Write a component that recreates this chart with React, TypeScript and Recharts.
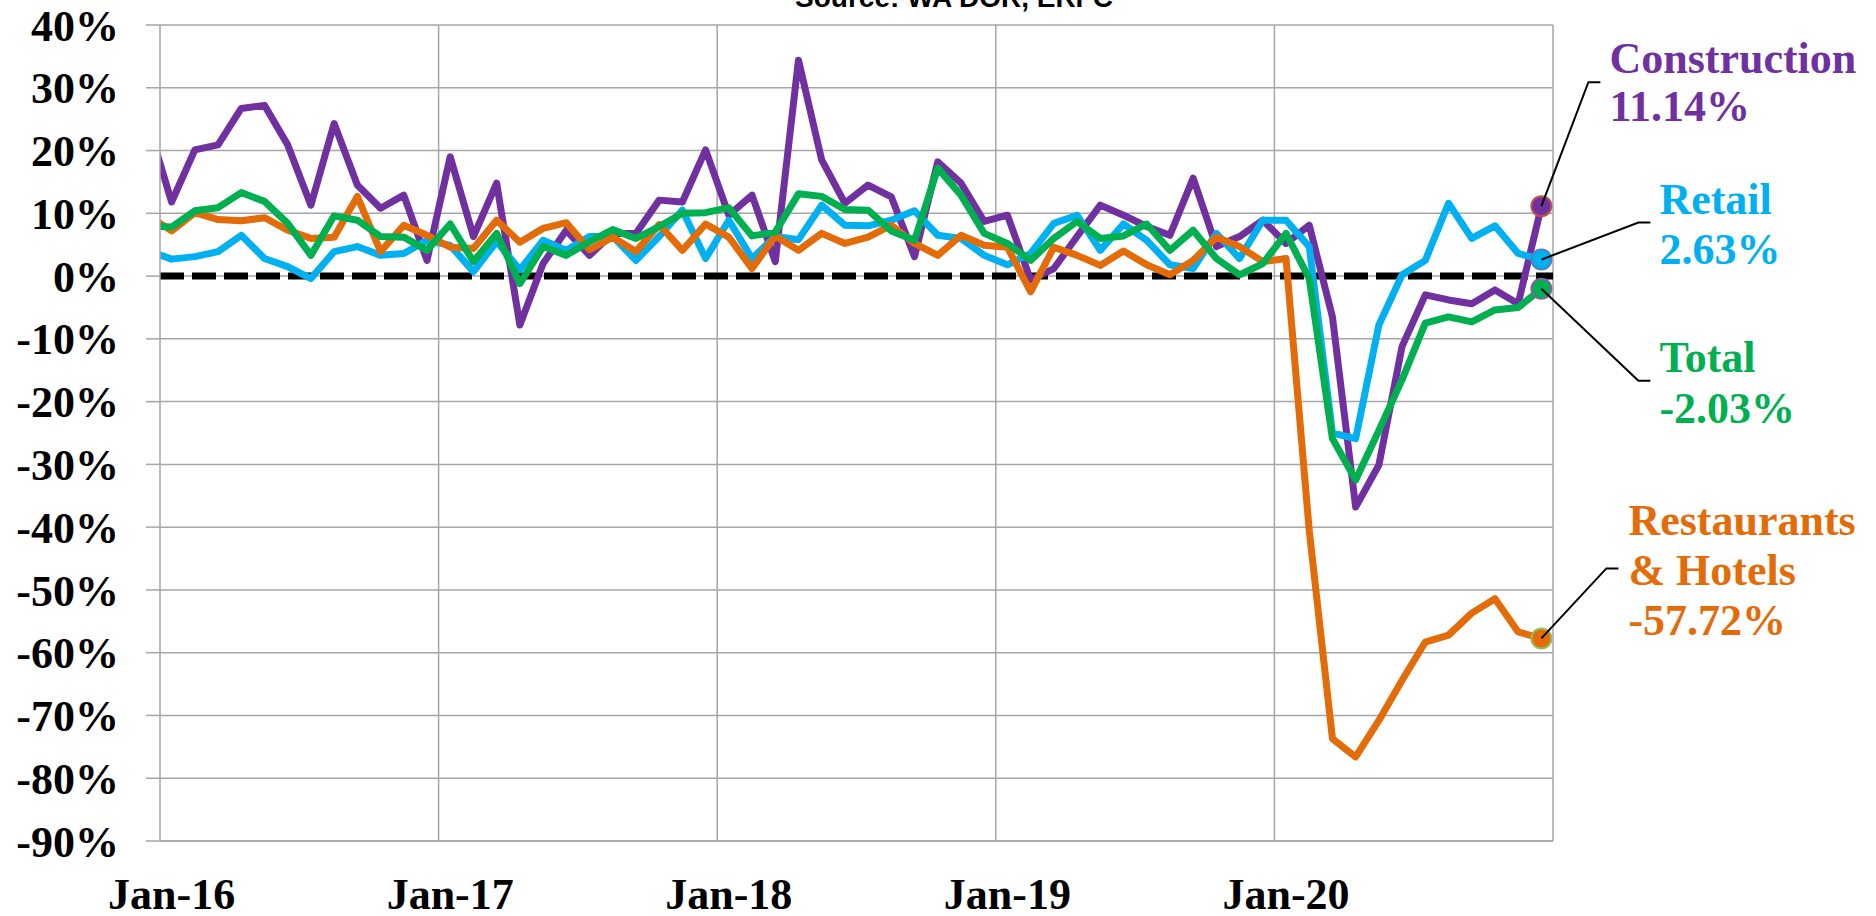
import React from 'react';
import { LineChart, Line, XAxis, YAxis, CartesianGrid, ReferenceLine, ReferenceDot } from 'recharts';

// Dec-15 .. Dec-20, year-over-year change in %
const construction = [
  24.1,
  11.8, 20.1, 20.9, 26.7, 27.2, 20.9, 11.3, 24.3, 14.5, 10.8, 12.9, 2.5,
  19.0, 6.3, 14.8, -7.8, 2.0, 7.3, 3.3, 6.8, 6.8, 12.1, 11.8, 20.1,
  9.7, 12.9, 2.3, 34.4, 18.5, 11.6, 14.5, 12.6, 3.1, 18.2, 14.8, 8.7,
  9.7, -0.6, 1.2, 6.3, 11.3, 9.7, 7.9, 6.5, 15.6, 4.7, 6.3, 8.9,
  5.2, 8.1, -6.5, -36.8, -30.1, -11.2, -3.0, -3.8, -4.4, -2.2, -4.4, 11.14,
];
const retail = [
  4.0,
  2.7, 3.1, 3.9, 6.5, 2.8, 1.5, -0.4, 3.9, 4.7, 3.3, 3.6, 5.7,
  4.9, 0.7, 5.5, 1.0, 5.7, 4.1, 6.3, 6.3, 2.5, 6.3, 10.5, 2.8,
  8.9, 2.8, 6.3, 5.8, 11.3, 8.1, 8.0, 8.9, 10.4, 6.5, 6.0, 3.3,
  1.8, 3.6, 8.4, 9.7, 4.1, 8.3, 5.7, 1.8, 1.2, 6.8, 2.8, 8.9,
  8.9, 4.7, -25.0, -25.9, -7.8, 0.2, 2.5, 11.6, 6.0, 8.0, 3.6, 2.63,
];
const restaurants = [
  9.6,
  7.2, 10.1, 9.0, 8.8, 9.3, 7.3, 6.0, 6.2, 12.7, 3.9, 8.1, 6.5,
  4.6, 4.4, 8.9, 5.4, 7.6, 8.5, 4.2, 6.2, 3.9, 8.2, 4.1, 8.3,
  6.2, 1.2, 6.4, 4.1, 6.8, 5.2, 6.2, 8.1, 5.2, 3.3, 6.5, 4.9,
  4.6, -2.5, 4.6, 3.3, 1.7, 4.0, 1.8, 0.2, 2.5, 6.2, 4.7, 2.3,
  2.8, -40.5, -73.7, -76.6, -70.8, -64.4, -58.3, -57.2, -53.7, -51.4, -56.7, -57.72,
];
const total = [
  8.0,
  7.8, 10.4, 10.9, 13.3, 11.9, 8.4, 3.3, 9.6, 8.9, 6.3, 6.2, 4.1,
  8.3, 2.3, 6.8, -1.2, 4.7, 3.3, 5.5, 7.4, 6.0, 7.9, 10.0, 10.1,
  10.9, 6.4, 7.0, 13.1, 12.7, 10.6, 10.5, 7.2, 5.7, 17.2, 12.9, 6.8,
  5.2, 2.5, 6.0, 8.7, 6.0, 6.4, 8.3, 4.1, 7.3, 2.8, 0.2, 2.0,
  6.8, -0.4, -25.9, -32.5, -24.6, -16.5, -7.5, -6.5, -7.3, -5.4, -5.0, -2.03,
];

const xTicks = [0, 12, 24, 36, 48];
const xTickLabels = ['Jan-16', 'Jan-17', 'Jan-18', 'Jan-19', 'Jan-20'];
const yTicks = [40, 30, 20, 10, 0, -10, -20, -30, -40, -50, -60, -70, -80, -90];
const yearBreaks = [11.5, 23.5, 35.5, 47.5, 59.5];

const PURPLE = '#7030A0';
const BLUE = '#00B0F0';
const ORANGE = '#E36C09';
const GREEN = '#00B050';
const GRID = '#a6a6a6';
const FONT = '"Liberation Serif", "Times New Roman", serif';

// month index: -1 = Dec-15, 0 = Jan-16 ... 59 = Dec-20
const data = construction.map((v, i) => ({
  idx: i - 1,
  construction: v,
  retail: retail[i],
  restaurants: restaurants[i],
  total: total[i],
}));
const lastIdx = data.length - 2;
const last = data[data.length - 1];

function callout(
  lines: string[],
  color: string,
  ring: string,
  elbow: [number, number],
  textDx: number,
  baselines: number[]
) {
  return (props: any) => {
    const { cx, cy } = props;
    const ex = cx + elbow[0];
    const ey = cy + elbow[1];
    return (
      <g>
        <circle cx={cx} cy={cy} r={10} fill={color} stroke={ring} strokeWidth={2} />
        <polyline
          points={`${cx},${cy} ${ex},${ey} ${ex + 12},${ey}`}
          fill="none"
          stroke="#000"
          strokeWidth={2}
        />
        <text fill={color} fontFamily={FONT} fontWeight="bold" fontSize={44}>
          {lines.map((l, k) => (
            <tspan key={k} x={cx + textDx} y={cy + baselines[k]}>
              {l}
            </tspan>
          ))}
        </text>
      </g>
    );
  };
}

export default function App() {
  return (
    <div style={{ position: 'absolute', left: 0, top: 0, width: 1876, height: 916, background: '#fff' }}>
      <svg width={1876} height={20} style={{ position: 'absolute', left: 0, top: 0 }}>
        <text x={954} y={7} textAnchor="middle" fontFamily='"Liberation Sans", Arial, sans-serif' fontWeight="bold" fontSize={28} fill="#000">
          Source: WA DOR, ERFC
        </text>
      </svg>
      <LineChart width={1876} height={916} data={data} margin={{ top: 25, right: 323, bottom: 0, left: 0 }}>
        <CartesianGrid vertical={false} stroke={GRID} strokeWidth={1.5} />
        <XAxis
          dataKey="idx"
          type="number"
          domain={[-0.5, 59.5]}
          allowDataOverflow
          ticks={xTicks}
          interval={0}
          tickFormatter={(v: number) => xTickLabels[xTicks.indexOf(v)]}
          height={75}
          tickLine={false}
          tickSize={0}
          tickMargin={37}
          axisLine={{ stroke: GRID, strokeWidth: 1.5 }}
          tick={{ fill: '#000', fontSize: 44, fontWeight: 'bold', fontFamily: FONT }}
        />
        <YAxis
          type="number"
          domain={[-90, 40]}
          ticks={yTicks}
          interval={0}
          width={160}
          tickFormatter={(v: number) => `${v}%`}
          tickSize={14}
          tickMargin={27}
          tickLine={{ stroke: GRID, strokeWidth: 1.5 }}
          axisLine={{ stroke: GRID, strokeWidth: 1.5 }}
          tick={{ fill: '#000', fontSize: 44, fontWeight: 'bold', fontFamily: FONT }}
        />
        {yearBreaks.map((x) => (
          <ReferenceLine key={x} x={x} stroke={GRID} strokeWidth={1.5} />
        ))}
        <ReferenceLine y={0} stroke="#000" strokeWidth={7} strokeDasharray="24 8" />
        <Line dataKey="construction" stroke={PURPLE} strokeWidth={7} dot={false} strokeLinejoin="round" isAnimationActive={false} />
        <Line dataKey="retail" stroke={BLUE} strokeWidth={7} dot={false} strokeLinejoin="round" isAnimationActive={false} />
        <Line dataKey="restaurants" stroke={ORANGE} strokeWidth={7} dot={false} strokeLinejoin="round" isAnimationActive={false} />
        <Line dataKey="total" stroke={GREEN} strokeWidth={7} dot={false} strokeLinejoin="round" isAnimationActive={false} />
        <ReferenceDot
          x={lastIdx}
          y={last.construction}
          shape={callout(['Construction', '11.14%'], PURPLE, '#C0504D', [47, -124], 68, [-133, -85])}
        />
        <ReferenceDot
          x={lastIdx}
          y={last.retail}
          shape={callout(['Retail', '2.63%'], BLUE, '#4F81BD', [97, -37], 118, [-46, 4])}
        />
        <ReferenceDot
          x={lastIdx}
          y={last.total}
          shape={callout(['Total', '-2.03%'], GREEN, '#8064A2', [97, 92], 118, [83, 134])}
        />
        <ReferenceDot
          x={lastIdx}
          y={last.restaurants}
          shape={callout(['Restaurants', '& Hotels', '-57.72%'], ORANGE, '#9BBB59', [65, -70], 87, [-103, -53, -3])}
        />
      </LineChart>
    </div>
  );
}
